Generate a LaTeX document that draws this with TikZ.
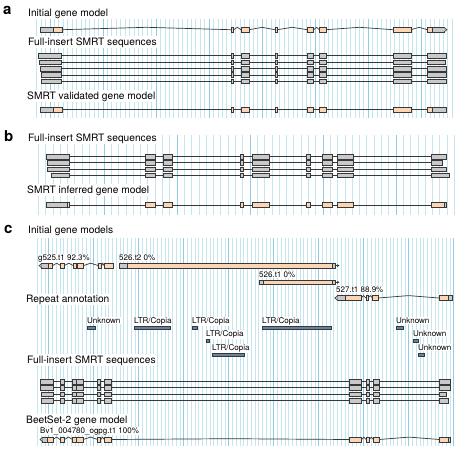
\documentclass[tikz,border=0pt]{standalone}
\usepackage{fontspec}
\setmainfont{TeX Gyre Heros}
\usepackage{tikz}
\usetikzlibrary{calc, arrows.meta}
\definecolor{exgray}{HTML}{C9C9C9}
\definecolor{expeach}{HTML}{FCD6B4}
\definecolor{exline}{HTML}{383838}
\definecolor{rpfill}{HTML}{6F8192}
\definecolor{rpline}{HTML}{2E3A45}
\definecolor{gridl}{HTML}{C6E6EF}
\definecolor{gridd}{HTML}{92CBE2}
\tikzset{
	exonbox/.style={
			rectangle,
			draw=exline,
			line width=0.6pt,
			inner sep=0pt,
			outer sep=0pt,
			minimum height=4.6pt,
			anchor=west
		},
	grayexon/.style={exonbox, fill=exgray},
	peachexon/.style={exonbox, fill=expeach},
	repeatbox/.style={exonbox, fill=rpfill, draw=rpline, minimum height=3.4pt},
	tipshape/.style={draw=exline, line width=0.6pt, fill=exgray},
	intronflat/.style={draw=exline, line width=0.9pt},
	introncurve/.style={
			draw=exline, line width=0.7pt,
			to path={-- ($(\tikztostart)!.5!(\tikztotarget)+(0,-2.4)$) -- (\tikztotarget)}
		},
	intronlow/.style={
			draw=exline, line width=0.7pt,
			to path={-- ($(\tikztostart)!.5!(\tikztotarget)+(0,-0.8)$) -- (\tikztotarget)}
		},
	nointron/.style={draw=none}
}
\tikzset{
	gridminor/.style={draw=gridl, line width=0.7pt},
	gridmajor/.style={draw=gridd, line width=0.8pt}
}
\tikzset{
	rowtitle/.style={font=\fontsize{10.2}{12}\selectfont, fill=white, inner sep=1pt, anchor=base west},
	smalltext/.style={font=\fontsize{8}{9.6}\selectfont, fill=white, inner sep=0.6pt, anchor=base west},
	paneltag/.style={font=\fontsize{15}{15}\selectfont\bfseries, inner sep=0pt, anchor=base west}
}
% one row of exons, joined by introns
\newcommand{\genemodel}[3]{%
  \foreach \xa/\xb/\sty/\lnk [count=\i, remember=\i as \p (initially 0)] in {#3}{%
    \node[\sty, minimum width={(\xb-\xa)*1pt}] (#1-\i) at (\xa,#2) {};
    \ifnum\i>1 \draw[\lnk] (#1-\p.east) to (#1-\i.west);\fi
  }%
}
\newcommand{\ltrc}{LTR/Copia}

\begin{document}
\begin{tikzpicture}[x=1pt, y=-1pt]
        \useasboundingbox (0,0) rectangle (461,451);

        % grids
        \foreach \k in {0,...,94}{
          \pgfmathtruncatemacro\m{mod(\k,12)}
          \ifnum\m=3 \def\gc{gridmajor}\else\def\gc{gridminor}\fi
          \draw[\gc] ({36.7+\k*4.42},18.5) -- ({36.7+\k*4.42},118);
        }
        \foreach \k in {0,...,57}{
          \pgfmathtruncatemacro\m{mod(\k,10)}
          \ifnum\m=9 \def\gc{gridmajor}\else\def\gc{gridminor}\fi
          \draw[\gc] ({38.3+\k*7.3},134.5) -- ({38.3+\k*7.3},215);
        }
        \foreach \k in {0,...,111}{
          \pgfmathtruncatemacro\m{mod(\k,12)}
          \ifnum\m=3 \def\gc{gridmajor}\else\def\gc{gridminor}\fi
          \draw[\gc] ({37.5+\k*3.75},237.5) -- ({37.5+\k*3.75},446);
        }

        % titles
        \node[paneltag] (taga) at (3,14) {a};
        \node[rowtitle] (ainit) at (27,16) {Initial gene model};
        \node[rowtitle] (asmrt) at (27,45) {Full-insert SMRT sequences};
        \node[rowtitle] (avalid) at (26,99) {SMRT validated gene model};

        \node[paneltag] (tagb) at (4,141) {b};
        \node[rowtitle] (bsmrt) at (27,141) {Full-insert SMRT sequences};
        \node[rowtitle] (binfer) at (26,193) {SMRT inferred gene model};

        \node[paneltag] (tagc) at (4,233) {c};
        \node[rowtitle] (cinit) at (27,233) {Initial gene models};
        \node[rowtitle] (crep) at (25,302) {Repeat annotation};
        \node[rowtitle] (csmrt) at (26,363) {Full-insert SMRT sequences};
        \node[rowtitle] (cbeet) at (25,423) {BeetSet-2 gene model};

        \node[smalltext] (lg525) at (37.4,260.7) {g525.t1 92.3\%};
        \node[smalltext] (l526b) at (118.4,260.7) {526.t2 0\%};
        \node[smalltext] (l526a) at (258.4,277) {526.t1 0\%};
        \node[smalltext] (l527) at (335.4,292.7) {527.t1 88.9\%};
        \node[smalltext] (lbv1) at (39.4,433) {Bv1\_004780\_ogpg.t1 100\%};

        % panel a
        \genemodel{ai}{29.7}{40/53/grayexon/nointron, 53/62/peachexon/nointron,
          231/233.7/peachexon/introncurve, 241/249.3/peachexon/introncurve,
          275/277.3/peachexon/introncurve, 307.3/313.7/peachexon/introncurve,
          319.3/326/peachexon/introncurve, 393/411/peachexon/introncurve,
          427.3/432/peachexon/introncurve, 432/444/grayexon/nointron}
        \coordinate (aitip) at ($(ai-10.east)+(3,0)$);
        \filldraw[tipshape] (ai-10.north east) -- (aitip) -- (ai-10.south east);

        \foreach \r/\yy/\xs/\xe in {1/55.8/38.7/446.7, 2/62.2/39.7/445,
          3/68.6/40.3/446.7, 4/75/41.3/446.7, 5/81.4/41.7/446}{
          \genemodel{sa\r}{\yy}{\xs/61.7/grayexon/nointron,
            231/233.7/grayexon/intronflat, 241/249.3/grayexon/intronflat,
            275/277.3/grayexon/intronflat, 307.3/313.7/grayexon/intronflat,
            319.3/326/grayexon/intronflat, 393/411/grayexon/intronflat,
            427.3/\xe/grayexon/intronflat}
        }

        \genemodel{av}{109.8}{40/53/grayexon/nointron, 53/62/peachexon/nointron,
          231/233.7/peachexon/intronflat, 241/249.3/peachexon/intronflat,
          275/277.3/peachexon/intronflat, 307.3/313.7/peachexon/intronflat,
          319.3/326/peachexon/intronflat, 393/411/peachexon/intronflat,
          427.3/432/peachexon/intronflat, 432/446.7/grayexon/nointron}

        % panel b
        \foreach \r/\yy/\xs/\xe in {1/156.7/46/446, 2/162.9/47/442.7,
          3/169.1/47/446.7, 4/175.3/51/449.3}{
          \genemodel{sb\r}{\yy}{\xs/69/grayexon/nointron,
            145/155/grayexon/intronflat, 163/172/grayexon/intronflat,
            240/243.5/grayexon/intronflat, 252/269/grayexon/intronflat,
            306/310.5/grayexon/intronflat, 322/332/grayexon/intronflat,
            337/353/grayexon/intronflat, 431/\xe/grayexon/intronflat}
        }

        \genemodel{bi}{205}{46/67/grayexon/nointron, 67/69.3/peachexon/nointron,
          145/155/peachexon/intronflat, 163/172/peachexon/intronflat,
          240/243.5/peachexon/intronflat, 252/269/peachexon/intronflat,
          306/310.5/peachexon/intronflat, 322/332/peachexon/intronflat,
          337/353/peachexon/intronflat, 431/444/peachexon/intronflat,
          444/446.5/grayexon/nointron}

        % panel c, initial models
        \genemodel{cg}{265.6}{41.7/48.3/grayexon/nointron, 48.3/52.7/peachexon/nointron,
          60.7/64.3/peachexon/introncurve, 73.3/76.7/peachexon/introncurve,
          77.7/83.3/peachexon/intronflat, 98.3/101.7/peachexon/introncurve,
          104/113.3/peachexon/introncurve}
        \coordinate (cgtip) at ($(cg-1.west)+(-2.7,0)$);
        \filldraw[tipshape] (cg-1.north west) -- (cgtip) -- (cg-1.south west);

        \genemodel{ct2}{265.6}{119/127/grayexon/nointron, 127/332/peachexon/nointron,
          332/335/grayexon/nointron}
        \coordinate (ct2tip) at ($(ct2-3.east)+(4.5,0)$);
        \draw[exline, line width=0.7pt, -{Stealth[length=2.6pt, width=3pt]}] (ct2-3.east) -- (ct2tip);

        \genemodel{ct1}{282.3}{259/263/grayexon/nointron, 263/332/peachexon/nointron,
          332/335/grayexon/nointron}
        \coordinate (ct1tip) at ($(ct1-3.east)+(4.5,0)$);
        \draw[exline, line width=0.7pt, -{Stealth[length=2.6pt, width=3pt]}] (ct1-3.east) -- (ct1tip);

        \genemodel{cu}{298}{337.5/345/grayexon/nointron, 345/361/peachexon/nointron,
          366/368/peachexon/introncurve, 372.7/378/peachexon/introncurve,
          439/448/peachexon/introncurve, 448/452/grayexon/nointron}
        \coordinate (cutip) at ($(cu-1.west)+(-2.7,0)$);
        \filldraw[tipshape] (cu-1.north west) -- (cutip) -- (cu-1.south west);

        % panel c, repeats
        \foreach \n/\xa/\xb/\ly/\txt in {1/87/95/328/Unknown, 2/134/170/328/\ltrc,
          3/192/197/328/\ltrc, 4/206/209/341/\ltrc, 5/212/244/355/\ltrc,
          6/262/331/328/\ltrc, 7/396/403/328/Unknown, 8/413/418/341/Unknown,
          9/418/424/355/Unknown}{
          \node[smalltext] (rpl\n) at (\xa-0.6,\ly-4.6) {\txt};
          \node[repeatbox, minimum width={(\xb-\xa)*1pt}] (rp\n) at (\xa,\ly) {};
        }

        % panel c, SMRT reads
        \foreach \r/\yy/\xs/\xe in {1/381.5/40/450, 2/387.9/40.7/450,
          3/394.4/41.7/446.7, 4/400.9/41/448.3}{
          \genemodel{sc\r}{\yy}{\xs/53/grayexon/nointron,
            60/64.3/grayexon/intronflat, 72.7/76/grayexon/intronflat,
            76.7/83.3/grayexon/intronflat, 97.7/100.7/grayexon/intronflat,
            104.3/111/grayexon/intronflat, 349.3/361.7/grayexon/intronflat,
            366/369.3/grayexon/intronflat, 373.3/379/grayexon/intronflat,
            439.3/\xe/grayexon/intronflat}
        }

        % panel c, BeetSet-2
        \genemodel{cb}{439.5}{42.7/47/grayexon/nointron, 47/53/peachexon/nointron,
          60/64.3/peachexon/introncurve, 72.7/76/peachexon/introncurve,
          76.7/83.3/peachexon/intronflat, 97.7/100.7/peachexon/introncurve,
          104.3/111/peachexon/introncurve, 349.3/361.7/peachexon/intronlow,
          366/369.3/peachexon/introncurve, 373.3/379/peachexon/introncurve,
          439.3/448/peachexon/introncurve, 448/450.5/grayexon/nointron}
        \coordinate (cbtip) at ($(cb-1.west)+(-2.7,0)$);
        \filldraw[tipshape] (cb-1.north west) -- (cbtip) -- (cb-1.south west);
\end{tikzpicture}
\end{document}
